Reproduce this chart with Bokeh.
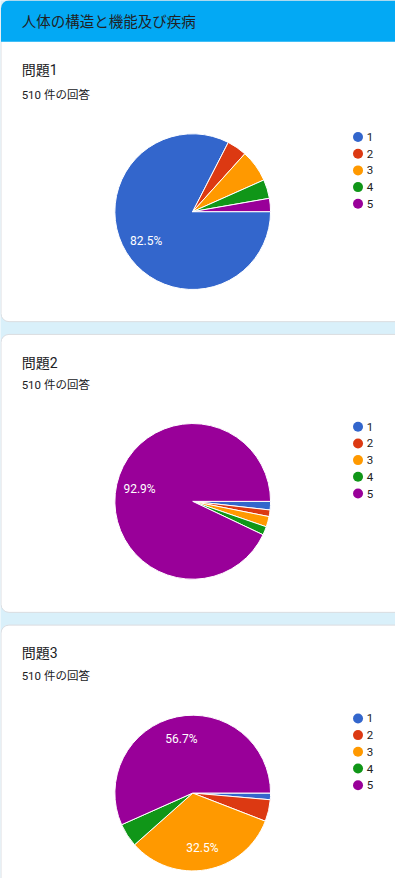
import numpy as np
from bokeh.plotting import figure
from bokeh.models import Range1d
from bokeh.core.properties import value
from bokeh.embed import file_html
from bokeh.resources import INLINE

# ---- data ----
page_title = "人体の構造と機能及び疾病"
question_titles = ["問題1", "問題2", "問題3"]
response_note = "510 件の回答"
choices = ["1", "2", "3", "4", "5"]
q1_counts = [421, 21, 34, 20, 14]
q2_counts = [9, 7, 11, 9, 474]
q3_counts = [7, 23, 166, 25, 289]
slice_colors = ["#3366cc", "#dc3912", "#ff9900", "#109618", "#990099"]

# ---- layout / style ----
FONT = value("Roboto, 'Noto Sans CJK JP'")
GAP = "#d9f0fa"
HEADER = "#03a9f4"
BORDER = "#dadce0"
TEXT = "#202124"
PAGE_W, PAGE_H = 411, 894
W, H = 395, 878


def Y(ref):
    return PAGE_H - ref


p = figure(width=W, height=H, x_range=Range1d(0, PAGE_W), y_range=Range1d(0, PAGE_H),
           output_backend="svg", toolbar_location=None, min_border=0)
p.axis.visible = False
p.xgrid.visible = False
p.ygrid.visible = False
p.outline_line_color = None
p.background_fill_color = GAP
p.border_fill_color = GAP

card_tops = [0, 340, 636]
card_bottoms = [327, 623, 960]
for t, b in zip(card_tops, card_bottoms):
    p.quad(left=0.5, right=440, top=Y(t), bottom=Y(b), fill_color="white",
           line_color=BORDER, line_width=1, border_radius=8)

p.quad(left=0.5, right=440, top=Y(0), bottom=Y(42), fill_color=HEADER, line_color=None,
       border_radius=(8, 8, 0, 0))
p.text(x=[22], y=[Y(22)], text=[page_title], text_font=FONT, text_font_size="14.5px",
       text_baseline="middle", text_color=TEXT)

pie_centers = [215, 510, 807]
all_counts = [q1_counts, q2_counts, q3_counts]
title_y = [71, 369, 664]
note_y = [96, 392, 688]
CX, R = 200, 81

for qi in range(3):
    counts = np.array(all_counts[qi], dtype=float)
    frac = counts / counts.sum()
    ends = np.cumsum(frac) * 2 * np.pi
    starts = np.concatenate([[0.0], ends[:-1]])
    cy = Y(pie_centers[qi])

    p.text(x=[22], y=[Y(title_y[qi])], text=[question_titles[qi]], text_font=FONT,
           text_font_size="14px", text_baseline="middle", text_color=TEXT)
    p.text(x=[22], y=[Y(note_y[qi])], text=[response_note], text_font=FONT,
           text_font_size="11.5px", text_baseline="middle", text_color=TEXT)

    p.wedge(x=CX, y=cy, radius=R, start_angle=list(-ends), end_angle=list(-starts),
            fill_color=slice_colors, line_color="white", line_width=1)

    mids = -(starts + ends) / 2
    show = frac >= 0.1
    lx = CX + 0.7 * R * np.cos(mids[show])
    ly = cy + 0.7 * R * np.sin(mids[show])
    labels = [f"{f * 100:.1f}%" for f in frac[show]]
    p.text(x=list(lx), y=list(ly), text=labels, text_font=FONT, text_font_size="12px",
           text_align="center", text_baseline="middle", text_color="white")

    leg_y = [cy + 76 - 17 * i for i in range(len(choices))]
    p.scatter(x=[372] * len(choices), y=leg_y, marker="circle", size=10,
              fill_color=slice_colors, line_color=None)
    p.text(x=[381] * len(choices), y=leg_y, text=choices, text_font=FONT,
           text_font_size="11.5px", text_baseline="middle", text_color="#222222")

open("out.html", "w").write(file_html(p, INLINE))
